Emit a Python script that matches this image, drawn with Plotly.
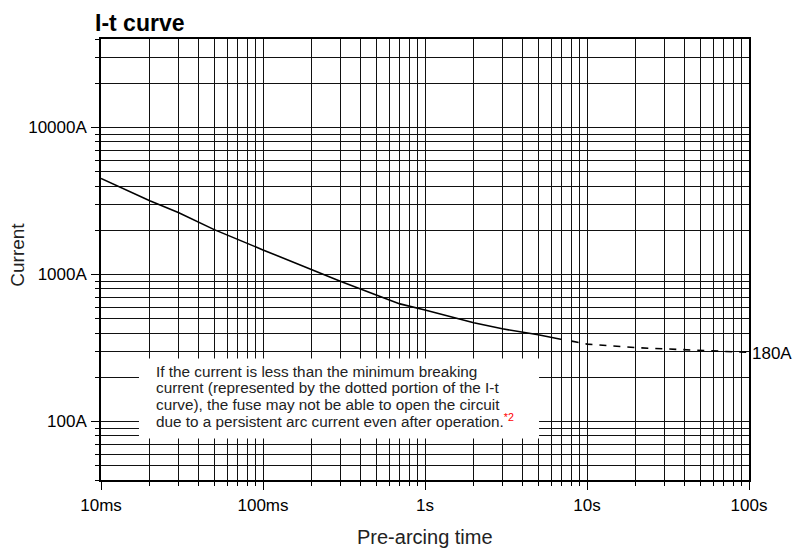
import math
import plotly.graph_objects as go

# ---- data ----
time_solid = [0.01, 0.02, 0.03, 0.05, 0.1, 0.2, 0.3, 0.5, 0.7, 1, 2, 3, 5, 7]
current_solid = [4500, 3180, 2640, 2020, 1470, 1075, 900, 725, 631, 573, 469, 427, 389, 361]
time_dashed = [8.05, 10, 20, 50, 100]
current_dashed = [352, 336, 318, 304, 295]

x_tickvals = [0.01, 0.1, 1, 10, 100]
x_ticktext = ["10ms", "100ms", "1s", "10s", "100s"]
y_tickvals = [100, 1000, 10000]
y_ticktext = ["100A", "1000A", "10000A"]
end_label = "180A"

note_lines = [
    "If the current is less than the minimum breaking",
    "current (represented by the dotted portion of the I-t",
    "curve), the fuse may not be able to open the circuit",
    "due to a persistent arc current even after operation.",
]
note_mark = "*2"

x_minor = [m * 10 ** e for e in range(-2, 2) for m in range(2, 10)]
y_minor = [m * 10 ** e for e in range(1, 5) for m in range(2, 10) if 40 <= m * 10 ** e <= 40000]

TICKFONT = "Liberation Sans, Arial, sans-serif"
TEXTFONT = "Liberation Sans, Arial, Helvetica, sans-serif"
GRID = "#111111"

fig = go.Figure()
fig.add_trace(go.Scatter(x=time_solid, y=current_solid, mode="lines",
                         line=dict(color="black", width=1.6), showlegend=False))
fig.add_trace(go.Scatter(x=time_dashed, y=current_dashed, mode="lines",
                         line=dict(color="black", width=1.6, dash="7px,7px"), showlegend=False))

axis_common = dict(
    type="log",
    showgrid=True, gridcolor=GRID, gridwidth=1,
    showline=True, linecolor="black", linewidth=1.6, mirror=True,
    ticks="outside", ticklen=8, tickcolor="black", tickwidth=1,
    tickfont=dict(family=TICKFONT, size=17, color="black"),
    zeroline=False,
    tickmode="array",
    automargin=False,
)

fig.update_xaxes(
    **axis_common,
    range=[-2, 2],
    tickvals=x_tickvals, ticktext=x_ticktext,
    ticklabelstandoff=1,
    minor=dict(tickmode="array", tickvals=x_minor, ticks="outside", ticklen=4,
               tickcolor="black", showgrid=True, gridcolor=GRID, gridwidth=1),
)
fig.update_yaxes(
    **axis_common,
    range=[1.60206, 4.60206],
    tickvals=y_tickvals, ticktext=y_ticktext,
    ticklabelstandoff=1,
    minor=dict(tickmode="array", tickvals=y_minor, ticks="outside", ticklen=4,
               tickcolor="black", showgrid=True, gridcolor=GRID, gridwidth=1),
)

# white note box
fig.add_shape(type="rect", xref="paper", yref="paper",
              x0=0.0586, x1=0.676, y0=0.094, y1=0.2755,
              fillcolor="white", line=dict(width=0), layer="above")

note_y = [0.2466, 0.209, 0.1718, 0.1349]
for i, (txt, yy) in enumerate(zip(note_lines, note_y)):
    if i == len(note_lines) - 1:
        txt = txt + "<sup><span style='color:red'>" + note_mark + "</span></sup>"
    fig.add_annotation(xref="paper", yref="paper", x=0.0818, y=yy, text=txt,
                       showarrow=False, xanchor="left", yanchor="middle",
                       font=dict(family=TEXTFONT, size=15.3, color="#222222"))

# end label at final point of dashed curve
fig.add_annotation(x=math.log10(time_dashed[-1]), y=math.log10(current_dashed[-1]),
                   xref="x", yref="y", text=end_label, showarrow=False,
                   xanchor="left", yanchor="middle", xshift=1, yshift=-1,
                   font=dict(family=TICKFONT, size=17, color="black"))

# axis titles
fig.add_annotation(xref="paper", yref="paper", x=0.5, y=-0.13, text="Pre-arcing time",
                   showarrow=False, xanchor="center", yanchor="middle",
                   font=dict(family=TEXTFONT, size=20, color="#222222"))
fig.add_annotation(xref="paper", yref="paper", x=-0.128, y=0.511, text="Current",
                   showarrow=False, xanchor="center", yanchor="middle", textangle=-90,
                   font=dict(family=TEXTFONT, size=19, color="#222222"))

fig.update_layout(
    width=793, height=551,
    margin=dict(l=101, r=44, t=39, b=71),
    paper_bgcolor="white", plot_bgcolor="white",
    title=dict(text="<b>I-t curve</b>", xref="container", yref="container",
               x=0.1198, y=0.958, xanchor="left", yanchor="middle",
               font=dict(family=TEXTFONT, size=23, color="black")),
    showlegend=False,
)

fig.write_html("out.html", config={"displayModeBar": False},
               post_script="document.body.style.margin='0';document.body.style.overflow='hidden';")
